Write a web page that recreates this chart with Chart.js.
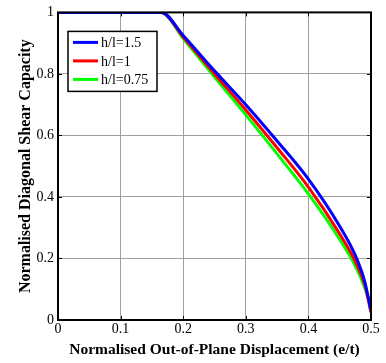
<!DOCTYPE html>
<html lang="en">
<head>
  <meta charset="UTF-8">
  <title>Diagonal Shear Capacity</title>
  <script src="https://cdn.jsdelivr.net/npm/chart.js@4.4.0/dist/chart.umd.min.js"></script>
  <style>
    html, body { margin: 0; padding: 0; background: #fff; }
    .box { width: 386px; height: 363px; position: relative; }
  </style>
</head>
<body>
  <div class="box">
    <canvas id="grafico"></canvas>
  </div>

<script>
  // valores
  const eValues = [0, 0.165, 0.2, 0.25, 0.3, 0.35, 0.4, 0.45, 0.475, 0.49, 0.5];
  const capH15 = [1, 1, 0.925, 0.81, 0.70, 0.582, 0.458, 0.305, 0.21, 0.125, 0.03];
  const capH10 = [1, 1, 0.92, 0.80, 0.683, 0.56, 0.432, 0.28, 0.19, 0.115, 0.025];
  const capH075 = [1, 1, 0.915, 0.79, 0.667, 0.54, 0.41, 0.262, 0.175, 0.105, 0.04];
  const seriesLabels = ['h/l=1.5', 'h/l=1', 'h/l=0.75'];
  const seriesColors = ['#0000ff', '#ff0000', '#00ff00'];
  const xTicks = [0, 0.1, 0.2, 0.3, 0.4, 0.5];
  const yTicks = [0, 0.2, 0.4, 0.6, 0.8, 1];

  const serif = "'Liberation Serif', 'Times New Roman', serif";

  function pontos(ys) {
    return eValues.map((e, i) => ({ x: e, y: ys[i] }));
  }

  const allSeries = [capH15, capH10, capH075];

  const data = {
    datasets: allSeries.map((s, i) => ({
      label: seriesLabels[i],
      data: pontos(s),
      borderColor: seriesColors[i],
      backgroundColor: seriesColors[i],
      borderWidth: 3,
      pointRadius: 0,
      fill: false,
      cubicInterpolationMode: 'monotone'
    }))
  };

  // moldura, ticks para dentro e legenda dentro do grafico
  const molduraPlugin = {
    id: 'moldura',
    afterDraw(chart) {
      const ctx = chart.ctx;
      const a = chart.chartArea;
      const xs = chart.scales.x;
      const ys = chart.scales.y;
      ctx.save();
      ctx.strokeStyle = '#000';
      ctx.lineWidth = 1;
      ctx.beginPath();
      xTicks.forEach(v => {
        const px = Math.round(xs.getPixelForValue(v)) + 0.5;
        ctx.moveTo(px, a.bottom); ctx.lineTo(px, a.bottom - 4);
        ctx.moveTo(px, a.top); ctx.lineTo(px, a.top + 4);
      });
      yTicks.forEach(v => {
        const py = Math.round(ys.getPixelForValue(v)) + 0.5;
        ctx.moveTo(a.left, py); ctx.lineTo(a.left + 4, py);
        ctx.moveTo(a.right, py); ctx.lineTo(a.right - 4, py);
      });
      ctx.stroke();
      ctx.lineWidth = 2;
      ctx.strokeRect(a.left, a.top, a.right - a.left, a.bottom - a.top);

      // legenda
      const lx = a.left + 10, ly = a.top + 19, lw = 89, lh = 60;
      ctx.fillStyle = '#fff';
      ctx.fillRect(lx, ly, lw, lh);
      ctx.lineWidth = 1.5;
      ctx.strokeRect(lx, ly, lw, lh);
      ctx.font = '14px ' + serif;
      ctx.textBaseline = 'middle';
      ctx.textAlign = 'left';
      chart.data.datasets.forEach((ds, i) => {
        const yy = ly + 11 + i * 18.5;
        ctx.strokeStyle = ds.borderColor;
        ctx.lineWidth = 3;
        ctx.beginPath();
        ctx.moveTo(lx + 5, yy);
        ctx.lineTo(lx + 30, yy);
        ctx.stroke();
        ctx.fillStyle = '#000';
        ctx.fillText(ds.label, lx + 33, yy + 1);
      });
      ctx.restore();
    }
  };

  const config = {
    type: 'line',
    data: data,
    plugins: [molduraPlugin],
    options: {
      responsive: true,
      maintainAspectRatio: false,
      animation: false,
      layout: { padding: { top: 7, right: 15, left: 0, bottom: 0 } },
      plugins: {
        legend: { display: false },
        tooltip: { enabled: false }
      },
      scales: {
        x: {
          type: 'linear',
          min: 0,
          max: 0.5,
          afterBuildTicks: s => { s.ticks = xTicks.map(v => ({ value: v })); },
          afterFit: s => { s.height = 43; },
          grid: { color: '#a0a0a0', lineWidth: 1, drawTicks: false },
          border: { display: false },
          ticks: {
            color: '#000',
            padding: 1,
            maxRotation: 0,
            font: { family: serif, size: 14 },
            callback: v => String(v)
          },
          title: {
            display: true,
            text: 'Normalised Out-of-Plane Displacement (e/t)',
            color: '#000',
            font: { family: serif, size: 15.5, weight: 'bold' },
            padding: { top: 0, bottom: 4 }
          }
        },
        y: {
          min: 0,
          max: 1,
          afterBuildTicks: s => { s.ticks = yTicks.map(v => ({ value: v })); },
          afterFit: s => { s.width = 58; },
          grid: { color: '#a0a0a0', lineWidth: 1, drawTicks: false },
          border: { display: false },
          ticks: {
            color: '#000',
            padding: 4,
            font: { family: serif, size: 14 },
            callback: v => String(v)
          },
          title: {
            display: true,
            text: 'Normalised Diagonal Shear Capacity',
            color: '#000',
            font: { family: serif, size: 16, weight: 'bold' },
            padding: { top: 16, bottom: 0 }
          }
        }
      }
    }
  };

  new Chart(document.getElementById('grafico'), config);
</script>
</body>
</html>
